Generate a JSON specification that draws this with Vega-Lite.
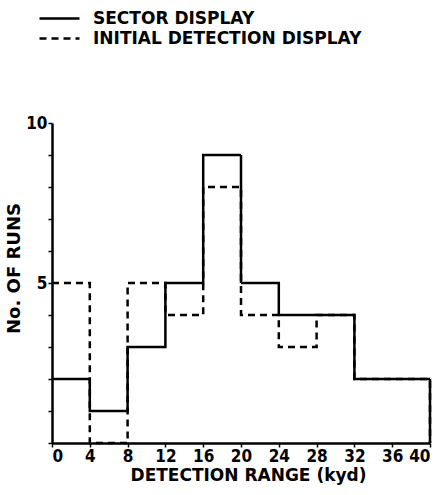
{
  "$schema": "https://vega.github.io/schema/vega-lite/v6.json",
  "width": 378,
  "height": 320,
  "autosize": {"type": "none"},
  "padding": {"left": 52, "top": 123, "right": 18, "bottom": 52},
  "background": "white",
  "config": {
    "view": {"stroke": null},
    "font": "DejaVu Sans"
  },
  "data": {
    "values": [
      {"series": "SECTOR DISPLAY", "range": 0, "runs": 2},
      {"series": "SECTOR DISPLAY", "range": 4, "runs": 1},
      {"series": "SECTOR DISPLAY", "range": 8, "runs": 3},
      {"series": "SECTOR DISPLAY", "range": 12, "runs": 5},
      {"series": "SECTOR DISPLAY", "range": 16, "runs": 9},
      {"series": "SECTOR DISPLAY", "range": 20, "runs": 5},
      {"series": "SECTOR DISPLAY", "range": 24, "runs": 4},
      {"series": "SECTOR DISPLAY", "range": 28, "runs": 4},
      {"series": "SECTOR DISPLAY", "range": 32, "runs": 2},
      {"series": "SECTOR DISPLAY", "range": 36, "runs": 2},
      {"series": "SECTOR DISPLAY", "range": 40, "runs": 0},
      {"series": "INITIAL DETECTION DISPLAY", "range": 0, "runs": 5},
      {"series": "INITIAL DETECTION DISPLAY", "range": 4, "runs": 0},
      {"series": "INITIAL DETECTION DISPLAY", "range": 8, "runs": 5},
      {"series": "INITIAL DETECTION DISPLAY", "range": 12, "runs": 4},
      {"series": "INITIAL DETECTION DISPLAY", "range": 16, "runs": 8},
      {"series": "INITIAL DETECTION DISPLAY", "range": 20, "runs": 4},
      {"series": "INITIAL DETECTION DISPLAY", "range": 24, "runs": 3},
      {"series": "INITIAL DETECTION DISPLAY", "range": 28, "runs": 4},
      {"series": "INITIAL DETECTION DISPLAY", "range": 32, "runs": 2},
      {"series": "INITIAL DETECTION DISPLAY", "range": 36, "runs": 2},
      {"series": "INITIAL DETECTION DISPLAY", "range": 40, "runs": 0}
    ]
  },
  "mark": {"type": "line", "interpolate": "step-after", "strokeWidth": 2.5, "color": "black"},
  "encoding": {
    "x": {
      "field": "range", "type": "quantitative",
      "scale": {"domain": [0, 40], "nice": false, "zero": true},
      "axis": {
        "values": [0, 4, 8, 12, 16, 20, 24, 28, 32, 36, 40],
        "title": "DETECTION RANGE (kyd)",
        "grid": false,
        "domainColor": "black", "domainWidth": 2.5,
        "tickColor": "black", "tickSize": 4, "tickWidth": 1.5,
        "labelFont": "DejaVu Sans Condensed", "labelFontSize": 17, "labelFontWeight": "bold", "labelColor": "black",
        "labelPadding": 1,
        "titleFont": "DejaVu Sans", "titleFontSize": 17, "titleFontWeight": "bold", "titleColor": "black",
        "titlePadding": 3,
        "titleX": 196
      }
    },
    "y": {
      "field": "runs", "type": "quantitative",
      "scale": {"domain": [0, 10], "nice": false},
      "axis": {
        "values": [0, 1, 2, 3, 4, 5, 6, 7, 8, 9, 10],
        "labelExpr": "datum.value == 5 || datum.value == 10 ? datum.label : ''",
        "title": "No. OF RUNS",
        "grid": false,
        "domainColor": "black", "domainWidth": 2.5,
        "tickColor": "black", "tickSize": 4, "tickWidth": 1.5,
        "labelFont": "DejaVu Sans Condensed", "labelFontSize": 17, "labelFontWeight": "bold", "labelColor": "black",
        "labelPadding": 1,
        "titleFont": "DejaVu Sans", "titleFontSize": 18, "titleFontWeight": "bold", "titleColor": "black",
        "titlePadding": 2,
        "titleY": 145
      }
    },
    "strokeDash": {
      "field": "series", "type": "nominal",
      "scale": {"domain": ["SECTOR DISPLAY", "INITIAL DETECTION DISPLAY"], "range": [[1, 0], [7, 5]]},
      "legend": {
        "title": null,
        "orient": "none",
        "legendX": -4,
        "legendY": -116,
        "symbolType": "M-2,0H2",
        "symbolSize": 400,
        "symbolStrokeWidth": 2.5,
        "symbolStrokeColor": "black",
        "symbolFillColor": "transparent",
        "labelFont": "DejaVu Sans",
        "labelFontSize": 17,
        "labelFontWeight": "bold",
        "labelColor": "black",
        "labelOffset": 22,
        "rowPadding": 0,
        "labelLimit": 400
      }
    }
  }
}
